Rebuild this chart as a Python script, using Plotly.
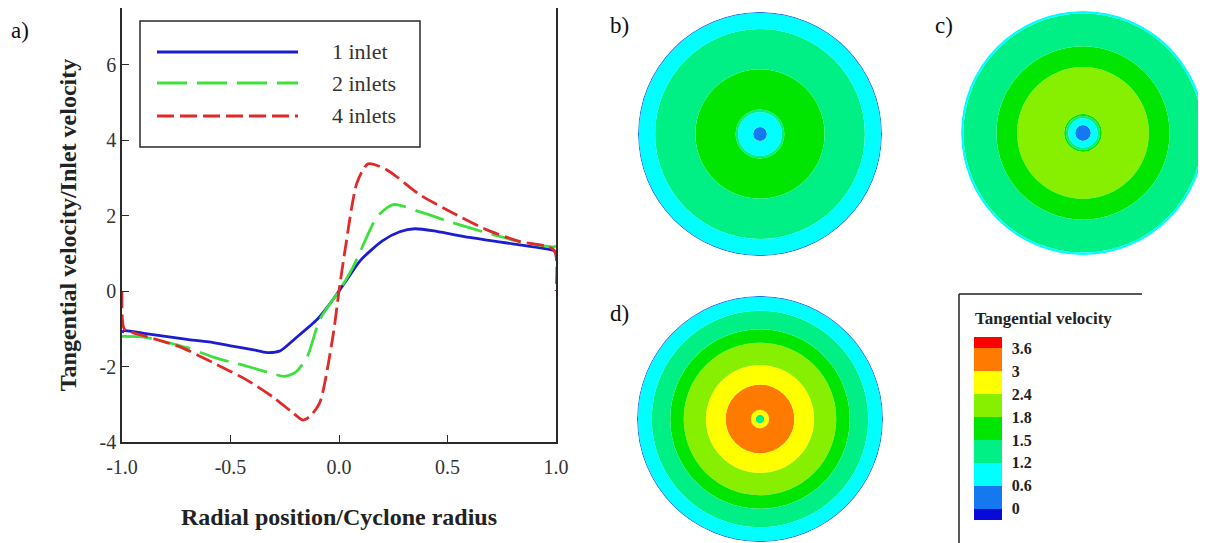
import numpy as np
import plotly.graph_objects as go

# ---------------- data: tangential velocity profiles (panel a) ----------------
x_1inlet = [-1.0, -0.99, -0.9, -0.8, -0.7, -0.6, -0.5, -0.4, -0.33, -0.27, -0.2, -0.1, -0.05,
            0.0, 0.05, 0.1, 0.2, 0.28, 0.35, 0.45, 0.6, 0.8, 0.99, 1.0]
y_1inlet = [-1.1, -1.05, -1.12, -1.2, -1.28, -1.35, -1.45, -1.55, -1.63, -1.58, -1.25, -0.75, -0.4,
            0.0, 0.42, 0.82, 1.33, 1.57, 1.65, 1.58, 1.42, 1.25, 1.07, 1.0]

x_2inlets = [-1.0, -0.99, -0.9, -0.8, -0.7, -0.58, -0.5, -0.42, -0.3, -0.25, -0.2, -0.147,
             -0.088, 0.0, 0.065, 0.143, 0.175, 0.25, 0.373, 0.525, 0.682, 0.834, 0.99, 1.0]
y_2inlets = [-1.2, -1.2, -1.22, -1.35, -1.5, -1.75, -1.88, -2.0, -2.2, -2.26, -2.15, -1.75,
             -0.75, 0.0, 0.64, 1.62, 1.97, 2.29, 2.1, 1.81, 1.54, 1.31, 1.17, 1.2]

x_4inlets = [-1.0, -0.99, -0.95, -0.885, -0.733, -0.58, -0.424, -0.304, -0.212, -0.166, -0.13,
             -0.088, -0.028, 0.0, 0.028, 0.083, 0.134, 0.221, 0.373, 0.525, 0.682, 0.834, 0.99, 1.0]
y_4inlets = [0.0, -1.0, -1.1, -1.21, -1.48, -1.9, -2.36, -2.81, -3.23, -3.42, -3.3,
             -2.95, -1.2, 0.0, 1.09, 2.87, 3.37, 3.21, 2.55, 2.07, 1.62, 1.31, 1.09, 0.0]

series_names = ["1 inlet", "2 inlets", "4 inlets"]
x_ticks = [-1.0, -0.5, 0.0, 0.5, 1.0]
x_ticktext = ["-1.0", "-0.5", "0.0", "0.5", "1.0"]
y_ticks = [-4, -2, 0, 2, 4, 6]
y_ticktext = ["-4", "-2", "0", "2", "4", "6"]

# ---------------- data: contour rings (panels b, c, d) ----------------
# level boundaries of the colour legend and legend labels
level_bounds = [0, 0.6, 1.2, 1.5, 1.8, 2.4, 3, 3.6]
level_labels = ["0", "0.6", "1.2", "1.5", "1.8", "2.4", "3", "3.6"]
level_colors = ["#0a0ad8", "#1478f0", "#00ffff", "#00f085", "#00e600",
                "#86f000", "#ffff00", "#ff7a00", "#ff0000"]

# outer radius (r/R) of each ring and a representative tangential velocity inside it
ring_r_b = [0.057, 0.18, 0.20, 0.53, 0.86, 0.992, 1.0]
ring_v_b = [0.4, 1.0, 1.35, 1.65, 1.4, 1.0, 0.4]
ring_r_c = [0.065, 0.12, 0.14, 0.155, 0.54, 0.71, 0.98, 1.0]
ring_v_c = [0.4, 1.0, 1.35, 1.65, 2.1, 1.65, 1.35, 1.0]
ring_r_d = [0.035, 0.075, 0.28, 0.44, 0.62, 0.73, 0.88, 0.992, 1.0]
ring_v_d = [1.35, 2.7, 3.3, 2.7, 2.1, 1.65, 1.35, 1.0, 0.4]

OFF = 8  # page body margin
W, H = 1206 - OFF, 543 - OFF
SERIF = "Liberation Serif"
AXC = "#2a2a2a"


def px_x(p):
    return (p - OFF) / W


def px_y(p):
    return (H - (p - OFF)) / H


def level_index(v):
    return np.searchsorted(level_bounds, v, side="right")


def color_value(v):
    idx = level_index(np.asarray(v, dtype=float))
    return np.clip(idx + 0.5, 0.75, 8.25)


# discrete colorscale in "index" space: bands between integer boundaries 1..8,
# end bands half size (cmin=0.5, cmax=8.5)
cs = []
edges = [0.0] + [(2 * j - 1) / 16 for j in range(1, 9)] + [1.0]
for i, c in enumerate(level_colors):
    cs.append([edges[i], c])
    cs.append([edges[i + 1], c])

fig = go.Figure()

# ---------------- panel a ----------------
line_styles = [
    dict(color="#1c1cd0", width=2.8, dash="solid"),
    dict(color="#3ee03e", width=2.8, dash="30px,10px"),
    dict(color="#e02a2a", width=2.8, dash="17px,6px"),
]
for xs, ys, nm, ls in zip([x_1inlet, x_2inlets, x_4inlets],
                          [y_1inlet, y_2inlets, y_4inlets], series_names, line_styles):
    fig.add_trace(go.Scatter(x=xs, y=ys, name=nm, mode="lines",
                             line=dict(shape="spline", smoothing=0.7, **ls),
                             showlegend=False, xaxis="x", yaxis="y"))

# ---------------- panels b, c, d ----------------
def rings(r_outer, v, polar, show):
    r_outer = np.asarray(r_outer, dtype=float)
    base = np.concatenate([[0.0], r_outer[:-1]])
    return go.Barpolar(
        r=r_outer - base, base=base, theta=np.zeros(len(r_outer)),
        width=np.full(len(r_outer), 360.0),
        marker=dict(color=color_value(v), colorscale=cs, cmin=0.5, cmax=8.5,
                    line=dict(width=0), showscale=show,
                    colorbar=dict(
                        x=px_x(974), xanchor="left", y=px_y(428.5), yanchor="middle",
                        len=183, lenmode="pixels", thickness=28, thicknessmode="pixels",
                        xpad=0, ypad=0, outlinewidth=0,
                        ticks="outside", ticklen=7, tickcolor="rgba(0,0,0,0)",
                        tickvals=list(range(1, 9)), ticktext=level_labels,
                        tickfont=dict(family=SERIF, size=16, color="#222", weight="bold"),
                    )),
        subplot=polar, showlegend=False, hoverinfo="skip")


fig.add_trace(rings(ring_r_b, ring_v_b, "polar", True))
fig.add_trace(rings(ring_r_c, ring_v_c, "polar2", False))
fig.add_trace(rings(ring_r_d, ring_v_d, "polar3", False))

polar_common = dict(
    bgcolor="rgba(0,0,0,0)",
    radialaxis=dict(visible=False, range=[0, 1]),
    angularaxis=dict(visible=False),
    hole=0,
)

font_tick = dict(family=SERIF, size=20, color="#333")
font_title = dict(family=SERIF, size=24, color="#222", weight="bold")

fig.update_layout(
    width=W, height=H, template="none",
    paper_bgcolor="white", plot_bgcolor="white",
    margin=dict(l=0, r=0, t=0, b=0),
    showlegend=False,
    xaxis=dict(domain=[px_x(122), px_x(556)], range=[-1, 1], tickvals=x_ticks,
               ticktext=x_ticktext, ticks="inside", ticklen=7, tickcolor=AXC,
               ticklabelstandoff=6,
               showline=True, mirror=True, linecolor=AXC, linewidth=1.5,
               showgrid=False, zeroline=False, tickfont=font_tick,
               title=dict(text="Radial position/Cyclone radius", font=font_title,
                          standoff=31)),
    yaxis=dict(domain=[px_y(442), px_y(8)], range=[-4, 7.5], tickvals=y_ticks,
               ticktext=y_ticktext,
               ticks="inside", ticklen=7, tickcolor=AXC,
               showline=True, mirror=True, linecolor=AXC, linewidth=1.5,
               showgrid=False, zeroline=False, tickfont=font_tick,
               title=dict(text="Tangential velocity/Inlet velocity", font=font_title,
                          standoff=16)),
    polar=dict(domain=dict(x=[px_x(638), px_x(882)], y=[px_y(256), px_y(12)]), **polar_common),
    polar2=dict(domain=dict(x=[px_x(961), px_x(1205)], y=[px_y(255), px_y(11)]), **polar_common),
    polar3=dict(domain=dict(x=[px_x(637), px_x(883)], y=[px_y(542), px_y(296)]), **polar_common),
)

# ---------------- legend of panel a (drawn as decoration) ----------------
shapes = [dict(type="rect", xref="paper", yref="paper",
               x0=px_x(140), x1=px_x(420), y0=px_y(147), y1=px_y(21),
               line=dict(color=AXC, width=1.5), fillcolor="white", layer="above")]
leg_y = [52, 83, 116]
annotations = []
for ly, nm, ls in zip(leg_y, series_names, line_styles):
    shapes.append(dict(type="line", xref="paper", yref="paper",
                       x0=px_x(157), x1=px_x(298), y0=px_y(ly), y1=px_y(ly),
                       line=dict(color=ls["color"], width=ls["width"], dash=ls["dash"]),
                       layer="above"))
    annotations.append(dict(xref="paper", yref="paper", x=px_x(330), y=px_y(ly),
                            xanchor="left", yanchor="middle", showarrow=False, text=nm,
                            font=dict(family=SERIF, size=22, color="#333")))

# colour-legend frame (left and top edges) and title
shapes.append(dict(type="line", xref="paper", yref="paper", x0=px_x(959), x1=px_x(959),
                   y0=px_y(543), y1=px_y(294), line=dict(color="#222", width=1.5)))
shapes.append(dict(type="line", xref="paper", yref="paper", x0=px_x(959), x1=px_x(1142),
                   y0=px_y(294), y1=px_y(294), line=dict(color="#222", width=1.5)))
annotations.append(dict(xref="paper", yref="paper", x=px_x(973), y=px_y(318),
                        xanchor="left", yanchor="middle", showarrow=False,
                        text="Tangential velocity",
                        font=dict(family=SERIF, size=17, color="#222", weight="bold")))

# panel letters
for txt, (lx, ly) in zip(["a)", "b)", "c)", "d)"],
                         [(20, 30), (619, 25), (944, 25), (619, 313)]):
    annotations.append(dict(xref="paper", yref="paper", x=px_x(lx), y=px_y(ly),
                            xanchor="center", yanchor="middle", showarrow=False, text=txt,
                            font=dict(family=SERIF, size=23, color="#111")))

fig.update_layout(shapes=shapes, annotations=annotations)
fig.write_html("out.html")
